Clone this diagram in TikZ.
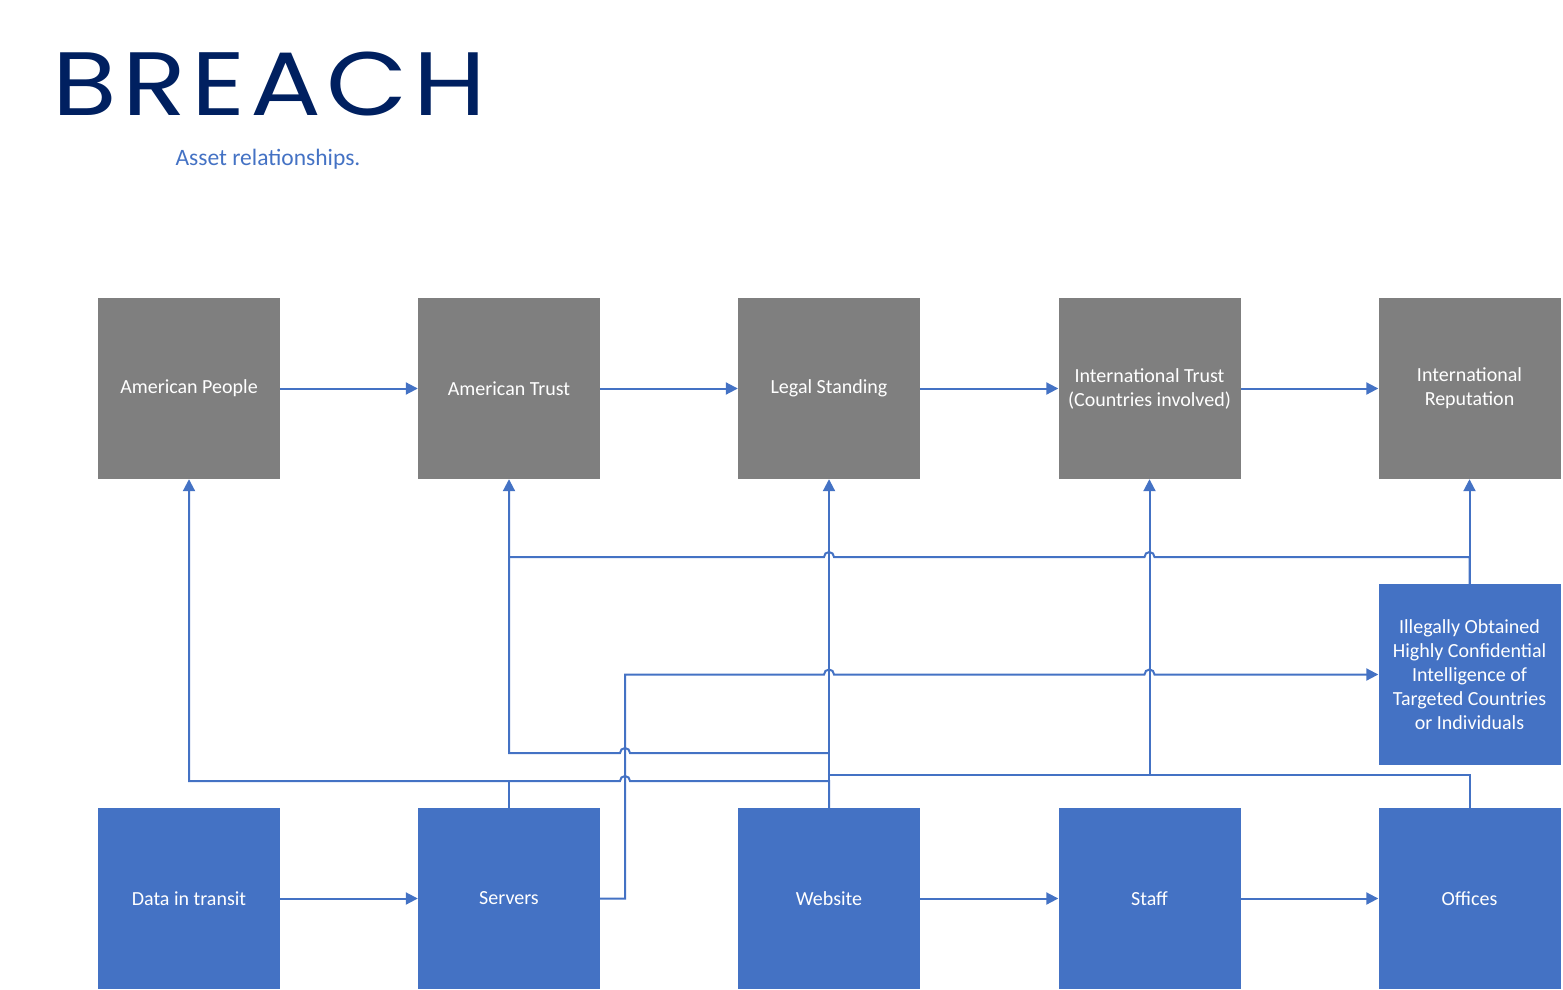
\documentclass[tikz,border=0pt]{standalone}
\usepackage{fontspec}
\setmainfont{Carlito}
\newfontfamily\titlefont[LetterSpace=5]{Poppins}
\usetikzlibrary{arrows.meta}
\definecolor{boxblue}{HTML}{4472C4}
\definecolor{boxgrey}{HTML}{7F7F7F}
\definecolor{navy}{HTML}{002060}
\tikzset{
  asset/.style={rectangle, minimum width=182pt, minimum height=181pt, inner sep=0pt,
    text=white, align=center, font=\fontsize{20}{24}\selectfont},
  greybox/.style={asset, fill=boxgrey},
  bluebox/.style={asset, fill=boxblue},
  link/.style={draw=boxblue, line width=2pt},
  arr/.style={link, -{Triangle[length=12pt,width=12pt]}},
}
\begin{document}
\begin{tikzpicture}[x=1pt,y=-1pt]
\useasboundingbox (0,0) rectangle (1563,990);
% title
\node[text=navy, font=\titlefont\fontsize{90}{96}\selectfont, inner sep=0pt, anchor=west] (title) at (52,84) {\scalebox{1.17}[1]{BREACH}};
\node[text=boxblue, font=\fontsize{23.5}{28}\selectfont, inner sep=0pt] (sub) at (268,159) {Asset relationships.};
% top row
\node[greybox] (ap) at (189,388.5) {American People};
\node[greybox] (at) at (509,388.5) {American Trust};
\node[greybox] (ls) at (829,388.5) {Legal Standing};
\node[greybox] (it) at (1149.5,388.5) {International Trust\\(Countries involved)};
\node[greybox] (ir) at (1469.5,388.5) {International\\Reputation};
% middle
\node[bluebox] (ill) at (1469.5,674.5) {Illegally Obtained\\Highly Confidential\\Intelligence of\\Targeted Countries\\or Individuals};
% bottom row
\node[bluebox] (dit) at (189,898.5) {Data in transit};
\node[bluebox] (srv) at (509,898.5) {Servers};
\node[bluebox] (web) at (829,898.5) {Website};
\node[bluebox] (stf) at (1149.5,898.5) {Staff};
\node[bluebox] (off) at (1469.5,898.5) {Offices};
% coordinates
\coordinate (jA) at (1469.5,557);
\coordinate (jB) at (509,557);
\coordinate (sv) at (625,898.5);
\coordinate (su) at (625,674.5);
\coordinate (wA) at (829,781);
\coordinate (wB) at (189,781);
\coordinate (sT) at (509,781);
\coordinate (wC) at (829,753);
\coordinate (wD) at (509,753);
\coordinate (oA) at (1469.5,775);
\coordinate (oB) at (1149.5,775);
\coordinate (oC) at (829,775);
% top row arrows
\draw[arr] (ap) -- (at);
\draw[arr] (at) -- (ls);
\draw[arr] (ls) -- (it);
\draw[arr] (it) -- (ir);
% bottom row arrows
\draw[arr] (dit) -- (srv);
\draw[arr] (web) -- (stf);
\draw[arr] (stf) -- (off);
% vertical links
\draw[arr] (ill.north) -- (ir.south);
\draw[arr] (web.north) -- (ls.south);
\draw[arr] (oB) -- (it.south);
% Illegally -> American Trust with jumps
\draw[arr] (ill.north) -- (jA) -- (1154.5,557) arc[start angle=0,end angle=-180,radius=5]
  -- (834,557) arc[start angle=0,end angle=-180,radius=5] -- (jB) -- (at.south);
% Servers -> Illegally with jumps
\draw[arr] (srv.east) -- (sv) -- (su) -- (824,674.5) arc[start angle=180,end angle=360,radius=5]
  -- (1144.5,674.5) arc[start angle=180,end angle=360,radius=5] -- (ill.west);
% Website -> American People
\draw[arr] (web.north) -- (wA) -- (630,781) arc[start angle=0,end angle=-180,radius=5]
  -- (wB) -- (ap.south);
\draw[link] (srv.north) -- (sT);
% Website -> American Trust
\draw[link] (wC) -- (630,753) arc[start angle=0,end angle=-180,radius=5] -- (wD) -- (jB);
% Offices -> International Trust / Website line
\draw[link] (off.north) -- (oA) -- (oB) -- (oC);
\end{tikzpicture}
\end{document}
